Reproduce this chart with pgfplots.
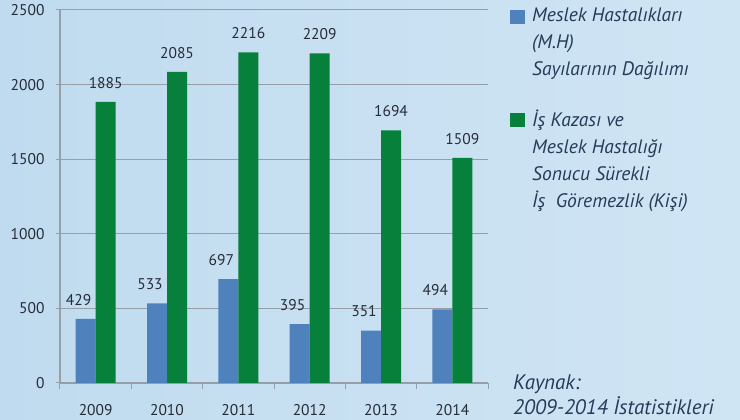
\documentclass[border=0pt]{standalone}
\usepackage{pgfplots}
\pgfplotsset{compat=1.18}
\usepackage{fontspec}
\setmainfont{PT Sans}
\definecolor{bgL}{RGB}{192,219,239}
\definecolor{bgR}{RGB}{208,229,244}
\definecolor{mhblue}{RGB}{79,129,189}
\definecolor{isgreen}{RGB}{6,128,58}
\definecolor{gridc}{RGB}{150,158,168}
\definecolor{txt}{RGB}{38,44,56}
\definecolor{legtxt}{RGB}{40,58,88}
\begin{document}
\begin{tikzpicture}[x=1pt,y=1pt]
\path[use as bounding box, left color=bgL, right color=bgR] (0,0) rectangle (740,420);
\begin{axis}[
  at={(60pt,37pt)}, anchor=south west,
  scale only axis, width=428pt, height=373pt,
  ybar=0pt, bar width=20pt,
  xmin=-0.5, xmax=5.5, ymin=0, ymax=2500,
  xtick={0,1,2,3,4,5},
  xticklabels={2009,2010,2011,2012,2013,2014},
  minor xtick={-0.5,0.5,1.5,2.5,3.5,4.5,5.5},
  ytick={0,500,1000,1500,2000,2500},
  axis lines*=left,
  axis line style={draw=gridc, line width=1.2pt},
  ymajorgrids,
  major grid style={draw=gridc, line width=1pt},
  tick align=outside,
  major tick length=4pt, minor tick length=6pt,
  every major x tick/.append style={draw=none},
  every minor x tick/.append style={draw=gridc, line width=1pt},
  every major y tick/.append style={draw=gridc, line width=1pt},
  /pgf/number format/assume math mode=true,
  /pgf/number format/1000 sep={},
  ticklabel style={font=\fontsize{15.5}{18}\selectfont, text=txt},
  xticklabel style={yshift=-14pt},
  yticklabel style={xshift=-8pt},
  nodes near coords,
  every node near coord/.append style={font=\fontsize{15.5}{18}\selectfont, text=txt, yshift=10pt},
  legend style={at={(axis description cs:1.0514,1.013)}, anchor=north west,
    draw=none, fill=none, inner sep=0pt,
    font=\itshape\fontsize{19.5}{27}\selectfont, text=legtxt,
    cells={align=left, anchor=north west, inner sep=2pt},
    row sep=29pt, column sep=5pt},
]
\addplot[fill=mhblue, draw=none, nodes near coords style={xshift=-7pt},
  legend image code/.code={\fill[mhblue] (1pt,-5pt) rectangle (16pt,-19pt);}]
  coordinates {(0,429) (1,533) (2,697) (3,395) (4,351) (5,494)};
\addlegendentry{Meslek Hastalıkları\\(M.H)\\Sayılarının Dağılımı}
\addplot[fill=isgreen, draw=none,
  legend image code/.code={\fill[isgreen] (1pt,-5pt) rectangle (16pt,-19pt);}]
  coordinates {(0,1885) (1,2085) (2,2216) (3,2209) (4,1694) (5,1509)};
\addlegendentry{İş Kazası ve\\Meslek Hastalığı\\Sonucu Sürekli\\İş~~Göremezlik (Kişi)}
\end{axis}
\node[anchor=base west, font=\itshape\fontsize{21}{27}\selectfont, text=legtxt, inner sep=0pt] at (513,30) {Kaynak:};
\node[anchor=base west, font=\itshape\fontsize{21}{27}\selectfont, text=legtxt, inner sep=0pt] at (513,5) {2009-2014 İstatistikleri};
\end{tikzpicture}
\end{document}
